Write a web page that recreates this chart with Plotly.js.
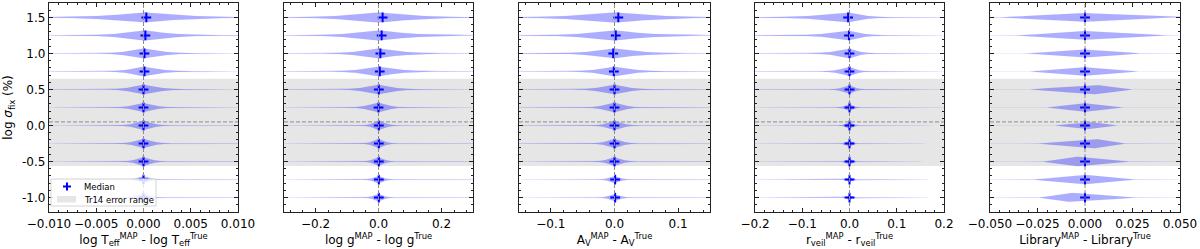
<!DOCTYPE html>
<html>
<head>
<meta charset="utf-8">
<script src="https://cdn.plot.ly/plotly-3.0.1.min.js"></script>
<style>html,body{margin:0;padding:0;background:#fff}#chart{width:1200px;height:249px}</style>
</head>
<body>
<div id="chart"></div>
<script>
// ---- data (levels of log sigma_fix, bottom to top) ----
const levels = [-1.0, -0.75, -0.5, -0.25, 0.0, 0.25, 0.5, 0.75, 1.0, 1.25, 1.5];
const tr14Range = [-0.56, 0.65];
const refLine = 0.05;

// Panel 1: log Teff
const teffMed  = [0.0000, 0.0000, 0.0000, 0.0000, 0.0000, 0.0000, 0.0000, 0.0001, 0.0001, 0.0002, 0.0003];
const teffPeak = [0.0000, 0.0000, 0.0000, 0.0000, 0.0000, 0.0000, 0.0000, 0.0000, 0.0000, 0.0001, 0.0001];
const teffLo   = [-0.0022, -0.0020, -0.0025, -0.0030, -0.0030, -0.0035, -0.0040, -0.0042, -0.0050, -0.0070, -0.0110];
const teffHi   = [0.0022, 0.0020, 0.0025, 0.0030, 0.0030, 0.0035, 0.0045, 0.0050, 0.0055, 0.0080, 0.0120];
const teffW    = [0.045, 0.045, 0.060, 0.062, 0.062, 0.062, 0.065, 0.065, 0.068, 0.070, 0.068];
const teffTail = [-0.012, 0.012];

// Panel 2: log g
const loggMed  = [0.001, 0.001, 0.001, 0.001, 0.001, 0.000, 0.001, 0.004, 0.006, 0.010, 0.013];
const loggPeak = [0.000, 0.000, 0.000, 0.000, 0.000, 0.000, 0.000, 0.000, 0.000, 0.000, 0.000];
const loggLo   = [-0.050, -0.050, -0.055, -0.060, -0.060, -0.100, -0.130, -0.160, -0.180, -0.250, -0.300];
const loggHi   = [0.050, 0.050, 0.055, 0.060, 0.070, 0.090, 0.130, 0.180, 0.200, 0.280, 0.320];
const loggW    = [0.051, 0.051, 0.058, 0.062, 0.062, 0.065, 0.065, 0.065, 0.067, 0.069, 0.069];
const loggTail = [-0.35, 0.35];

// Panel 3: Av
const avMed  = [0.001, 0.001, 0.000, 0.000, 0.000, 0.000, 0.000, -0.001, -0.002, 0.002, 0.006];
const avPeak = [0.000, 0.000, 0.000, 0.000, 0.000, 0.000, 0.000, 0.000, 0.000, 0.000, 0.000];
const avLo   = [-0.028, -0.028, -0.035, -0.040, -0.040, -0.050, -0.065, -0.075, -0.100, -0.130, -0.170];
const avHi   = [0.028, 0.028, 0.035, 0.038, 0.040, 0.045, 0.060, 0.080, 0.110, 0.140, 0.180];
const avW    = [0.046, 0.046, 0.058, 0.062, 0.062, 0.065, 0.065, 0.065, 0.067, 0.069, 0.069];
const avTail = [-0.2, 0.2];

// Panel 4: r_veil
const rvMed   = [0.000, 0.000, 0.000, 0.000, 0.000, 0.000, 0.000, 0.000, 0.000, -0.001, -0.003];
const rvPeak  = [0.000, 0.000, 0.000, 0.000, 0.000, 0.000, 0.000, 0.000, 0.000, -0.001, -0.003];
const rvLo    = [-0.018, -0.018, -0.022, -0.025, -0.025, -0.030, -0.045, -0.065, -0.090, -0.130, -0.190];
const rvHi    = [0.018, 0.018, 0.020, 0.020, 0.022, 0.025, 0.035, 0.045, 0.055, 0.075, 0.090];
const rvW     = [0.035, 0.035, 0.040, 0.042, 0.046, 0.046, 0.056, 0.062, 0.065, 0.066, 0.066];
const rvTailL = [-0.25, -0.25, -0.25, -0.25, -0.25, -0.25, -0.25, -0.25, -0.25, -0.25, -0.25];
const rvTailR = [0.168, 0.168, 0.152, 0.160, 0.173, 0.200, 0.200, 0.200, 0.200, 0.200, 0.250];

// Panel 5: Library
const libMed  = [0.000, 0.000, 0.000, 0.000, 0.000, 0.000, 0.000, 0.000, 0.000, 0.000, 0.000];
const libPeak = [-0.007, 0.000, -0.004, 0.005, 0.002, 0.000, 0.005, 0.000, 0.000, 0.000, 0.000];
const libLo   = [-0.024, -0.027, -0.022, -0.024, -0.016, -0.020, -0.029, -0.029, -0.030, -0.036, -0.0445];
const libHi   = [0.026, 0.026, 0.023, 0.021, 0.017, 0.020, 0.025, 0.028, 0.029, 0.0425, 0.045];
const libW    = [0.065, 0.065, 0.065, 0.065, 0.050, 0.058, 0.065, 0.058, 0.055, 0.060, 0.060];
const libTail = [-0.06, 0.06];

const xRanges = [[-0.01, 0.01], [-0.3, 0.3], [-0.15, 0.15], [-0.2, 0.2], [-0.05, 0.05]];
const xDticks = [0.005, 0.2, 0.1, 0.1, 0.025];
const xFormats = ['.3f', '.1f', '.1f', '.1f', '.3f'];
const xTitles = [
  'log T<sub>eff</sub><sup>MAP</sup> - log T<sub>eff</sub><sup>True</sup>',
  'log g<sup>MAP</sup> - log g<sup>True</sup>',
  'A<sub>V</sub><sup>MAP</sup> - A<sub>V</sub><sup>True</sup>',
  'r<sub>veil</sub><sup>MAP</sup> - r<sub>veil</sub><sup>True</sup>',
  'Library<sup>MAP</sup> - Library<sup>True</sup>'
];
const yTickVals = [-1.0, -0.5, 0.0, 0.5, 1.0, 1.5];
const yTickText = ['-1.0', '-0.5', '0.0', '0.5', '1.0', '1.5'];
const legendLabels = ['Median', 'Tr14 error range'];

// ---- style: violin outline profile (fraction of half-span from peak, relative half-width) ----
const PROF_F = [1, 0.7, 0.45, 0.25, 0.1, 0];
const PROF_EXP = [0.03, 0.13, 0.30, 0.55, 0.85, 1];
const PROF_LIN = [0.02, 0.30, 0.55, 0.75, 0.90, 1];

const panels = [
  {med: teffMed, peak: teffPeak, lo: teffLo, hi: teffHi, w: teffW, tl: levels.map(() => teffTail[0]), tr: levels.map(() => teffTail[1]), prof: PROF_EXP},
  {med: loggMed, peak: loggPeak, lo: loggLo, hi: loggHi, w: loggW, tl: levels.map(() => loggTail[0]), tr: levels.map(() => loggTail[1]), prof: PROF_EXP},
  {med: avMed, peak: avPeak, lo: avLo, hi: avHi, w: avW, tl: levels.map(() => avTail[0]), tr: levels.map(() => avTail[1]), prof: PROF_EXP},
  {med: rvMed, peak: rvPeak, lo: rvLo, hi: rvHi, w: rvW, tl: rvTailL, tr: rvTailR, prof: PROF_EXP},
  {med: libMed, peak: libPeak, lo: libLo, hi: libHi, w: libW, tl: levels.map(() => libTail[0]), tr: levels.map(() => libTail[1]), prof: PROF_LIN}
];

const VCOL = 'rgba(0,0,255,0.32)';
const BAND = '#e6e6e6';
const data = [];

panels.forEach((p, k) => {
  const xa = k === 0 ? 'x' : 'x' + (k + 1);
  const ya = k === 0 ? 'y' : 'y' + (k + 1);
  levels.forEach((lv, i) => {
    const pk = p.peak[i], w = p.w[i];
    const xs = [], hw = [];
    xs.push(p.tl[i]); hw.push(0);
    for (let j = 0; j < PROF_F.length; j++) { xs.push(pk - PROF_F[j] * (pk - p.lo[i])); hw.push(p.prof[j]); }
    for (let j = PROF_F.length - 2; j >= 0; j--) { xs.push(pk + PROF_F[j] * (p.hi[i] - pk)); hw.push(p.prof[j]); }
    xs.push(p.tr[i]); hw.push(0);
    const X = xs.concat(xs.slice().reverse());
    const Y = hw.map(h => lv + h * w).concat(hw.slice().reverse().map(h => lv - h * w));
    data.push({x: X, y: Y, type: 'scatter', mode: 'lines', fill: 'toself', fillcolor: VCOL,
      line: {color: 'rgba(0,0,255,0.035)', width: 1}, hoverinfo: 'skip', showlegend: false,
      xaxis: xa, yaxis: ya});
  });
  data.push({x: p.med, y: levels, type: 'scatter', mode: 'markers', name: 'Median',
    marker: {symbol: 'cross-thin', size: 7, color: 'blue', line: {color: 'blue', width: 2}},
    showlegend: false, xaxis: xa, yaxis: ya});
});

const L = 49, R = 20, T = 3, B = 37, W = 1200, H = 249;
const pw = W - L - R, ph = H - T - B;
const px2x = v => (v - L) / pw;
const px2y = v => (H - B - v) / ph;
const pix = [[49, 238], [284, 473], [519, 710], [755, 944], [990, 1180]];
const layout = {
  width: W, height: H,
  margin: {l: L, r: R, t: T, b: B, pad: 0},
  paper_bgcolor: '#fff', plot_bgcolor: '#fff',
  font: {family: 'DejaVu Sans, sans-serif', size: 12, color: '#000'},
  showlegend: false,
  shapes: [],
  annotations: []
};

const axisCommon = {
  showgrid: false, zeroline: false, showline: true, linecolor: '#222', linewidth: 1.2,
  mirror: 'allticks', ticks: 'inside', ticklen: 4, tickwidth: 1, tickcolor: '#222',
  tickfont: {size: 12}
};

pix.forEach((pp, k) => {
  const sx = k === 0 ? '' : String(k + 1);
  layout['xaxis' + sx] = Object.assign({}, axisCommon, {
    domain: [px2x(pp[0]), px2x(pp[1])], anchor: 'y' + sx,
    range: xRanges[k], tickmode: 'linear', tick0: 0, dtick: xDticks[k], tickformat: xFormats[k],
    tickangle: 0,
    minor: {tickmode: 'linear', tick0: 0, dtick: xDticks[k] / 5, ticks: 'inside', ticklen: 2, tickcolor: '#222'},
    title: {text: xTitles[k], font: {size: 12}, standoff: 4}
  });
  layout['yaxis' + sx] = Object.assign({}, axisCommon, {
    domain: [0, 1], anchor: 'x' + sx, range: [-1.2, 1.7],
    tickmode: 'array', tickvals: yTickVals, ticktext: yTickText, showticklabels: k === 0,
    minor: {tickmode: 'linear', tick0: 0, dtick: 0.1, ticks: 'inside', ticklen: 2, tickcolor: '#222'},
    title: k === 0 ? {text: 'log <i>σ</i><sub>fix</sub> (%)', font: {size: 12}, standoff: 6} : {text: ''}
  });
  if (k > 0) layout['yaxis' + sx].matches = 'y';
  layout.shapes.push({type: 'rect', xref: 'x' + sx + ' domain', yref: 'y' + sx, x0: 0, x1: 1,
    y0: tr14Range[0], y1: tr14Range[1], fillcolor: BAND, line: {width: 0}, layer: 'below'});
  layout.shapes.push({type: 'line', xref: 'x' + sx + ' domain', yref: 'y' + sx, x0: 0, x1: 1,
    y0: refLine, y1: refLine, line: {color: '#8c8c8c', width: 1, dash: '4px,2px'}, layer: 'above'});
  layout.shapes.push({type: 'line', xref: 'x' + sx, yref: 'y' + sx + ' domain', x0: 0, x1: 0,
    y0: 0, y1: 1, line: {color: '#8c8c8c', width: 1, dash: '4px,2px'}, layer: 'above'});
});

// ---- compact matplotlib-style legend in panel 1 ----
layout.shapes.push({type: 'rect', xref: 'paper', yref: 'paper',
  x0: px2x(51), x1: px2x(156), y0: px2y(206), y1: px2y(179),
  fillcolor: 'rgba(255,255,255,0.8)', line: {color: '#d4d4d4', width: 1}, layer: 'above'});
layout.shapes.push({type: 'line', xref: 'paper', yref: 'paper',
  x0: px2x(63), x1: px2x(71), y0: px2y(186.5), y1: px2y(186.5), line: {color: 'blue', width: 2}, layer: 'above'});
layout.shapes.push({type: 'line', xref: 'paper', yref: 'paper',
  x0: px2x(67), x1: px2x(67), y0: px2y(182.5), y1: px2y(190.5), line: {color: 'blue', width: 2}, layer: 'above'});
layout.shapes.push({type: 'rect', xref: 'paper', yref: 'paper',
  x0: px2x(57), x1: px2x(76), y0: px2y(202.5), y1: px2y(196), fillcolor: BAND, line: {width: 0}, layer: 'above'});
[186.5, 199.5].forEach((py, i) => {
  layout.annotations.push({xref: 'paper', yref: 'paper', x: px2x(82), y: px2y(py),
    xanchor: 'left', yanchor: 'middle', showarrow: false, text: legendLabels[i],
    font: {size: 8.5, color: '#000'}});
});

Plotly.newPlot('chart', data, layout, {staticPlot: true, displayModeBar: false});
</script>
</body>
</html>
